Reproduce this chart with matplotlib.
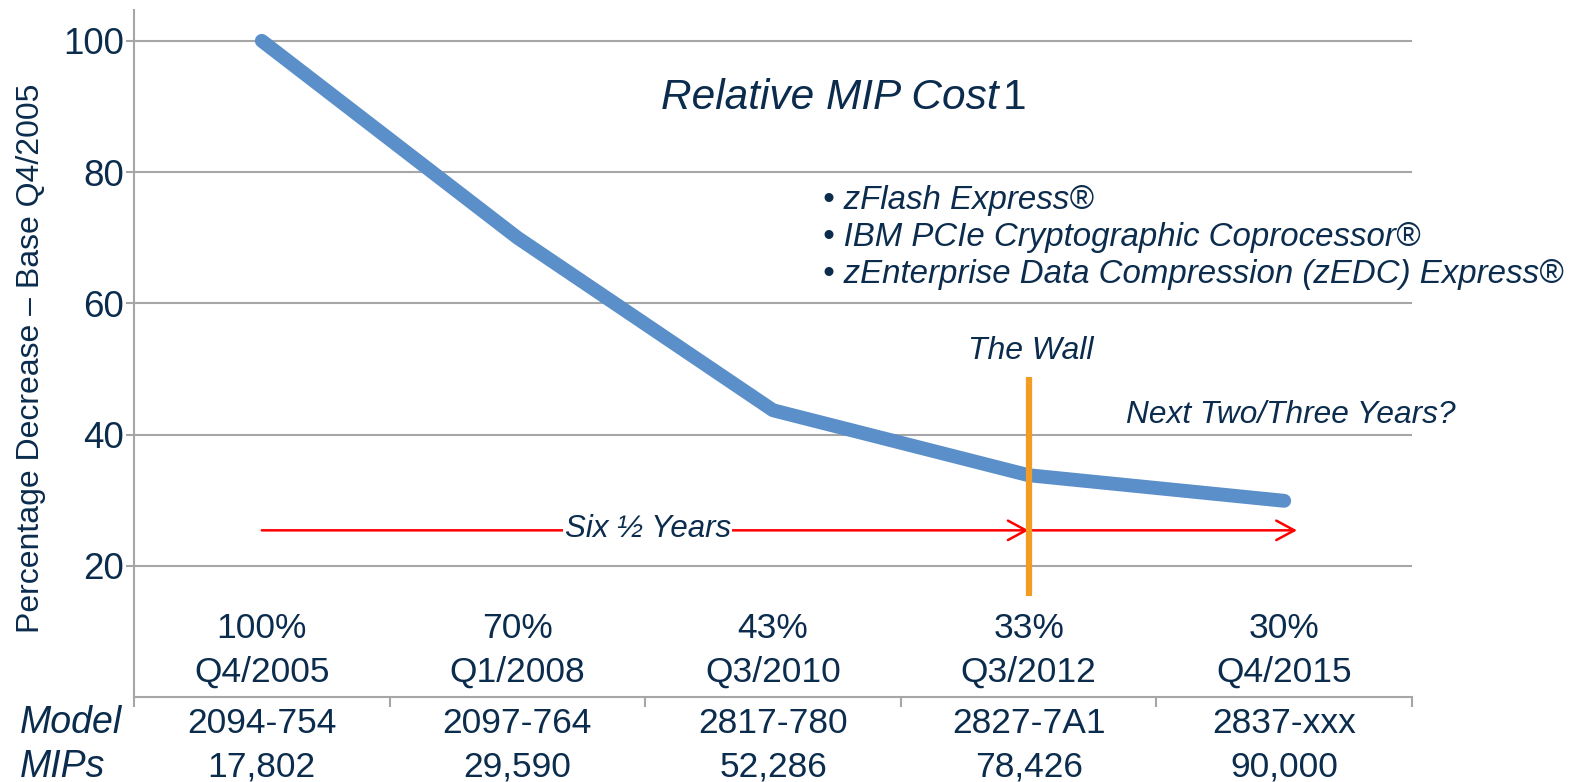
import numpy as np
import matplotlib
matplotlib.use('Agg')
from matplotlib import pyplot as plt

# values
quarters = ['Q4/2005', 'Q1/2008', 'Q3/2010', 'Q3/2012', 'Q4/2015']
pct_labels = ['100%', '70%', '43%', '33%', '30%']
relative_cost = [100, 70, 43.7, 33.8, 29.9]
models = ['2094-754', '2097-764', '2817-780', '2827-7A1', '2837-xxx']
mips = ['17,802', '29,590', '52,286', '78,426', '90,000']
features = ['zFlash Express®',
            'IBM PCIe Cryptographic Coprocessor®',
            'zEnterprise Data Compression (zEDC) Express®']
wall_index = 3

plt.rcParams['font.family'] = ['Liberation Sans', 'DejaVu Sans']

NAVY = '#0B2C4D'
GRID = '#A6A6A6'
BLUE = '#5B8FC9'
ORANGE = '#F39C25'


def main():
    fig = plt.figure(figsize=(15.79, 7.82), dpi=100)
    ax = fig.add_axes([134/1579, 1-697/782, (1412-134)/1579, (697-10)/782])

    x = np.arange(len(quarters))
    ax.plot(x, relative_cost, color=BLUE, lw=10, solid_capstyle='round',
            solid_joinstyle='round', zorder=3)

    ax.set_xlim(-0.5, len(quarters) - 0.5)
    ax.set_ylim(0, 104.7)
    ax.set_yticks([20, 40, 60, 80, 100])
    ax.grid(axis='y', color=GRID, lw=1.5)
    ax.set_axisbelow(True)
    for s in ['top', 'right']:
        ax.spines[s].set_visible(False)
    for s in ['left', 'bottom']:
        ax.spines[s].set_color(GRID)
        ax.spines[s].set_linewidth(1.5)
    ax.tick_params(axis='y', colors=GRID, labelcolor=NAVY, labelsize=26.5,
                   length=6, width=1.5, pad=1)
    ax.set_xticks(np.arange(len(quarters) + 1) - 0.5)
    ax.set_xticklabels([])
    ax.tick_params(axis='x', colors=GRID, length=7, width=1.5)

    # category labels inside the plot, model / MIPs rows below it
    trans = ax.get_xaxis_transform()
    for i in x:
        ax.text(i, 10.5, pct_labels[i], ha='center', va='center', fontsize=25.5, color=NAVY)
        ax.text(i, 3.8, quarters[i], ha='center', va='center', fontsize=25.5, color=NAVY)
        ax.text(i, -0.038, models[i], transform=trans, ha='center', va='center',
                fontsize=25.5, color=NAVY, clip_on=False)
        ax.text(i, -0.102, mips[i], transform=trans, ha='center', va='center',
                fontsize=25.5, color=NAVY, clip_on=False)
    fig.text(20/1579, 1-723/782, 'Model', style='italic', fontsize=27, va='center', color=NAVY)
    fig.text(20/1579, 1-767/782, 'MIPs', style='italic', fontsize=27, va='center', color=NAVY)

    fig.text(31/1579, 1-358/782, 'Percentage Decrease – Base Q4/2005', rotation=90,
             ha='center', va='center', fontsize=23, color=NAVY)

    # title, italic with an upright footnote mark
    t = ax.text(1.562, 91.3, 'Relative MIP Cost', style='italic', fontsize=30.5,
                ha='left', va='center', color=NAVY)
    ax.annotate('1', xy=(1, 0.5), xycoords=t, xytext=(3, 0), textcoords='offset points',
                ha='left', va='center', fontsize=30.5, color=NAVY)

    ax.text(2.195, 70.0, '\n'.join('• ' + f for f in features), style='italic',
            fontsize=23.8, ha='left', va='center', linespacing=1.24, color=NAVY)

    # the wall
    ax.vlines(wall_index, 15.4, 48.8, color=ORANGE, lw=4.5, zorder=5)
    ax.text(wall_index + 0.01, 52.7, 'The Wall', style='italic', fontsize=23,
            ha='center', va='center', color=NAVY)
    ax.text(4.67, 43.0, 'Next Two/Three Years?', style='italic', fontsize=22.8,
            ha='right', va='center', color=NAVY)

    # timeline arrows
    arrow = dict(arrowstyle='->,head_length=0.65,head_width=0.35', color='red',
                 lw=1.8, shrinkA=0, shrinkB=0, mutation_scale=20)
    ax.annotate('', xy=(wall_index, 25.4), xytext=(0, 25.4), arrowprops=arrow, zorder=4)
    ax.annotate('', xy=(4.05, 25.4), xytext=(wall_index, 25.4), arrowprops=arrow, zorder=4)
    ax.text(1.51, 25.6, 'Six ½ Years', style='italic', fontsize=22.5, ha='center',
            va='center', color=NAVY, zorder=6,
            bbox=dict(facecolor='white', edgecolor='none', pad=1))

    fig.savefig('out.png', dpi=100)


if __name__ == "__main__":
    main()
